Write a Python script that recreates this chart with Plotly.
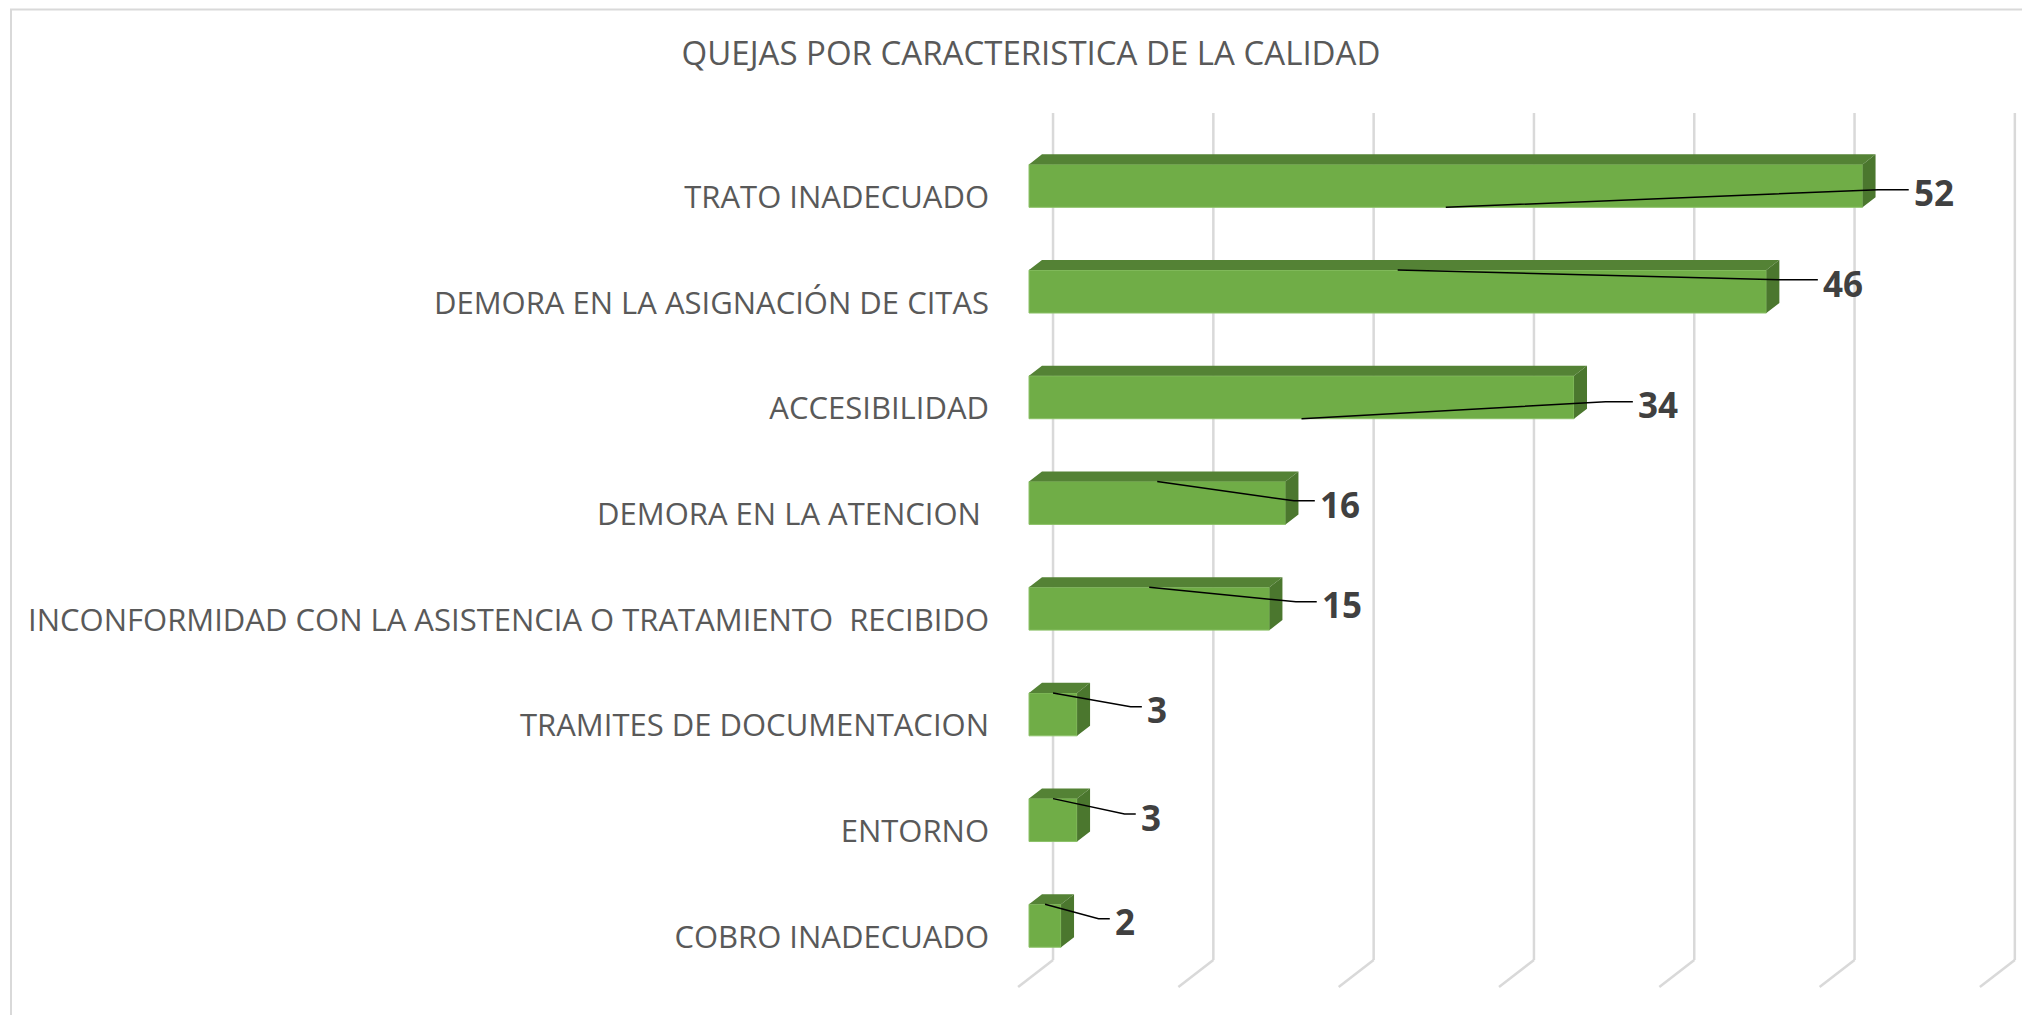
import plotly.graph_objects as go

# ---------------- data ----------------
categories = [
    "TRATO INADECUADO",
    "DEMORA EN LA ASIGNACIÓN DE CITAS",
    "ACCESIBILIDAD",
    "DEMORA EN LA ATENCION ",
    "INCONFORMIDAD CON LA ASISTENCIA O TRATAMIENTO  RECIBIDO",
    "TRAMITES DE DOCUMENTACION",
    "ENTORNO",
    "COBRO INADECUADO",
]
values = [52, 46, 34, 16, 15, 3, 3, 2]
grid_ticks = [0, 10, 20, 30, 40, 50, 60]
title_text = "QUEJAS POR CARACTERISTICA DE LA CALIDAD"

# ---------------- layout / style constants ----------------
FRONT_SHIFT = -0.105      # front face centre relative to category row
FRONT_HALF = 0.203        # half height of the front face (rows)
DEPTH_X = 0.81            # 3D depth in value units
DEPTH_Y = 0.095           # 3D depth in rows
WALL_X = 1.5              # back wall offset (value units)
WALL_TOP = -0.795
WALL_BOTTOM = 7.219
FLOOR_DX = -2.18
FLOOR_DY = 0.255

label_dx = [3.08, 3.41, 3.87, 2.03, 3.15, 4.24, 3.86, 3.24]
label_dy = [-0.038, -0.186, -0.032, -0.095, -0.14, -0.147, -0.133, -0.141]
leader_side = ["bottom", "top", "bottom", "top", "top", "top", "top", "top"]
leader_kink = [2.1, 2.6, 1.9, 1.5, 1.5, 0.9, 0.9, 0.9]

FRONT = "#70AD47"
TOP = "#548235"
SIDE = "#4B772E"
GRID = "#D9D9D9"
TEXT = "#595959"

rows = list(range(len(categories)))

fig = go.Figure()

# gridlines on back wall + floor diagonals (below traces)
shapes = []
for t in grid_ticks:
    xb = t + WALL_X
    shapes.append(dict(type="line", xref="x", yref="y", x0=xb, x1=xb,
                       y0=WALL_TOP, y1=WALL_BOTTOM, layer="below",
                       line=dict(color=GRID, width=2.5)))
    shapes.append(dict(type="line", xref="x", yref="y", x0=xb, x1=xb + FLOOR_DX,
                       y0=WALL_BOTTOM, y1=WALL_BOTTOM + FLOOR_DY, layer="below",
                       line=dict(color=GRID, width=2.5)))
# chart border (left/top visible)
shapes.append(dict(type="rect", xref="paper", yref="paper",
                   x0=-0.9602, x1=1.02, y0=-0.05, y1=1.1073,
                   line=dict(color=GRID, width=2), layer="below"))

# front faces
fig.add_trace(go.Bar(
    x=values, y=[r + FRONT_SHIFT for r in rows], orientation="h",
    width=2 * FRONT_HALF, base=0,
    marker=dict(color=FRONT, line=dict(color="#8CC168", width=1)),
    hoverinfo="skip", showlegend=False,
))

# top faces & side faces
tx, ty, sx, sy = [], [], [], []
for r, v in zip(rows, values):
    yt = r + FRONT_SHIFT - FRONT_HALF
    yb = r + FRONT_SHIFT + FRONT_HALF
    tx += [0, v, v + DEPTH_X, DEPTH_X, 0, None]
    ty += [yt, yt, yt - DEPTH_Y, yt - DEPTH_Y, yt, None]
    sx += [v, v + DEPTH_X, v + DEPTH_X, v, v, None]
    sy += [yt, yt - DEPTH_Y, yb - DEPTH_Y, yb, yt, None]
fig.add_trace(go.Scatter(x=tx, y=ty, mode="lines", fill="toself", fillcolor=TOP,
                         line=dict(width=0, color=TOP), hoverinfo="skip", showlegend=False))
fig.add_trace(go.Scatter(x=sx, y=sy, mode="lines", fill="toself", fillcolor=SIDE,
                         line=dict(width=0, color=SIDE), hoverinfo="skip", showlegend=False))

# leader lines + data labels
lx, ly = [], []
annotations = []
for r, v, dx, dy, side, k in zip(rows, values, label_dx, label_dy, leader_side, leader_kink):
    y0 = r + FRONT_SHIFT + (FRONT_HALF if side == "bottom" else -FRONT_HALF)
    xl = v + dx
    yl = r + dy
    lx += [v / 2, xl - k, xl - 0.2, None]
    ly += [y0, yl - 0.03, yl - 0.03, None]
    annotations.append(dict(x=xl, y=yl, xref="x", yref="y", text=str(v),
                            showarrow=False, xanchor="left", yanchor="middle",
                            font=dict(family="Open Sans", size=35, color="#404040",
                                      weight="bold")))
fig.add_trace(go.Scatter(x=lx, y=ly, mode="lines", line=dict(color="black", width=1.5),
                         hoverinfo="skip", showlegend=False))

# page body has an 8px margin -> figure is 2022x1007 and drawn 8px in
fig.update_layout(
    width=2022, height=1007,
    margin=dict(l=992, r=0, t=97, b=20),
    paper_bgcolor="white", plot_bgcolor="white",
    title=dict(text=title_text, x=1023 / 2022, xanchor="center", y=1 - 45 / 1007,
               yanchor="middle", yref="container",
               font=dict(family="Open Sans", size=33, color=TEXT)),
    xaxis=dict(range=[-1.809, 62.445], showgrid=False, zeroline=False,
               showticklabels=False, showline=False, fixedrange=True),
    yaxis=dict(range=[7.550, -0.870], tickmode="array", tickvals=rows,
               ticktext=categories, showgrid=False, zeroline=False, showline=False,
               ticks="", ticklabelstandoff=10,
               tickfont=dict(family="Open Sans", size=31, color=TEXT), fixedrange=True),
    shapes=shapes,
    annotations=annotations,
    showlegend=False,
)

fig.write_html("out.html")
